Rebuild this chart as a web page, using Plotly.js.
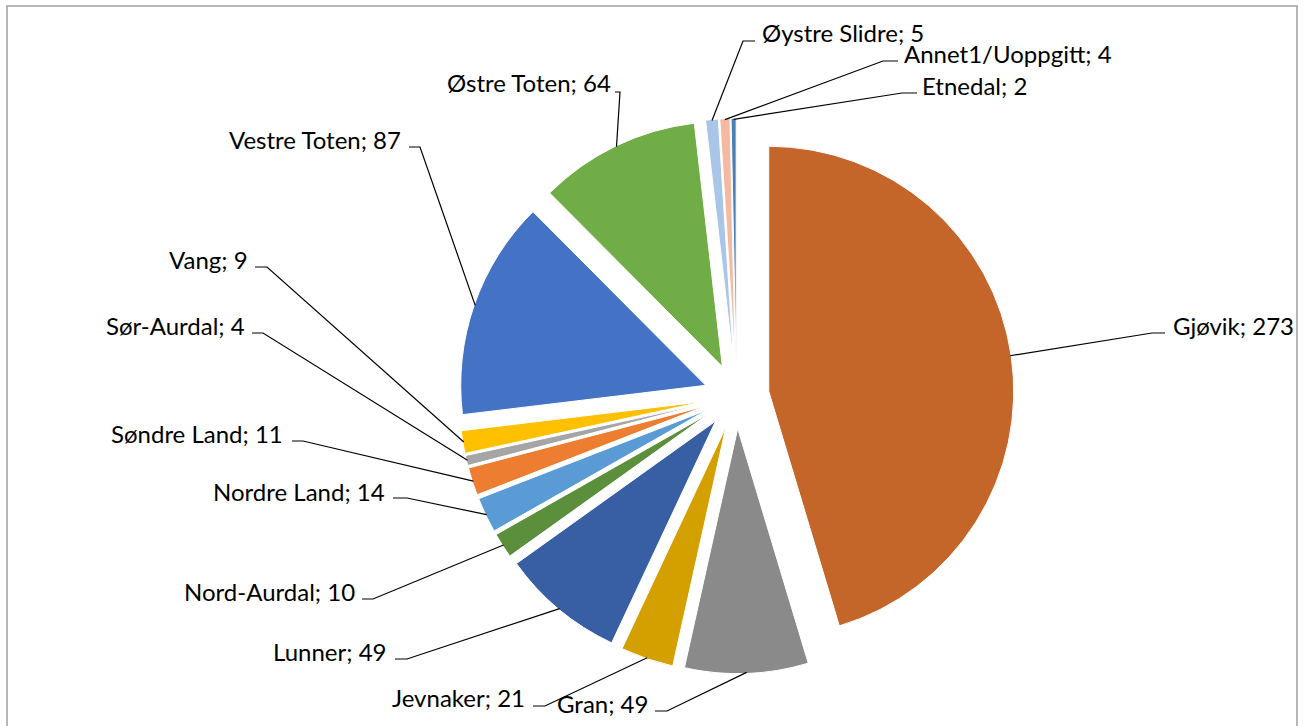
<!DOCTYPE html>
<html>
<head>
<meta charset="utf-8">
<script src="https://cdn.plot.ly/plotly-3.0.1.min.js"></script>
<style>html,body{margin:0;padding:0;background:#fff;}#chart{width:1306px;height:726px;}</style>
</head>
<body>
<div id="chart"></div>
<script>
// ---- data ----
const labels = ['Gjøvik','Gran','Jevnaker','Lunner','Nord-Aurdal','Nordre Land','Søndre Land','Sør-Aurdal','Vang','Vestre Toten','Østre Toten','Øystre Slidre','Annet1/Uoppgitt','Etnedal'];
const values = [273,49,21,49,10,14,11,4,9,87,64,5,4,2];
const colors = ['#C4662A','#8A8A8A','#D4A000','#385FA3','#5B8F3B','#5B9BD5','#ED7D31','#A5A5A5','#FFC000','#4472C4','#70AD47','#A9C5E8','#F5B9A1','#4A7FB6'];

// ---- layout configuration (label placement, pixels) ----
const W = 1306, H = 726;
const CX = 736.5, CY = 396, R = 245, PULL = 0.133;
// [textX, textY, xanchor, stubY, stubNear, stubFar]
const labelPos = [
  [1171, 325, 'left', 333, 1165, 1152],
  [650, 703, 'right', 711, 655, 667],
  [527, 697, 'right', 706, 533, 545],
  [388, 651, 'right', 659, 395, 407],
  [357, 591, 'right', 599, 362, 373],
  [387, 491, 'right', 498, 393, 407],
  [285, 433.5, 'right', 441, 292, 303],
  [247, 325, 'right', 333, 252, 263],
  [250, 259, 'right', 267, 255, 267],
  [403, 139.5, 'right', 147, 409, 420],
  [613, 82.5, 'right', 92, 615, 620],
  [760, 32, 'left', 41, 755, 743],
  [902, 53, 'left', 61, 898, 883],
  [920, 86, 'left', 93, 917, 902]
];

const px = x => x / W;
const py = y => 1 - y / H;

// pie domain so that radius/centre match
const boxHalf = R * (1 + PULL);
const domY = [py(CY + boxHalf), py(CY - boxHalf)];
const domX = [px(CX) - 0.22, px(CX) + 0.22];

const total = values.reduce((a, b) => a + b, 0);
const annotations = [];
const shapes = [];
let cum = 0;
values.forEach((v, i) => {
  const mid = (cum + v / 2) / total * 2 * Math.PI;
  cum += v;
  const rr = R * (1 + PULL) - 1;
  const ax = CX + rr * Math.sin(mid);
  const ay = CY - rr * Math.cos(mid);
  const [tx, ty, anc, sy, sn, sf] = labelPos[i];
  annotations.push({
    xref: 'paper', yref: 'paper', x: px(tx), y: py(ty),
    xanchor: anc, yanchor: 'middle', showarrow: false,
    text: labels[i] + '; ' + v,
    font: {family: 'Lato, Carlito, Calibri, sans-serif', size: 24, color: '#000'}
  });
  shapes.push({
    type: 'path', xref: 'paper', yref: 'paper',
    path: `M ${px(sn)},${py(sy)} L ${px(sf)},${py(sy)} L ${px(ax)},${py(ay)}`,
    line: {color: '#000', width: 1.2}
  });
});

// outer frame
shapes.push({type: 'rect', xref: 'paper', yref: 'paper', x0: px(7), x1: px(1297), y0: py(732), y1: py(6),
  line: {color: '#A0A0A0', width: 1.5}, layer: 'below'});

const trace = {
  type: 'pie',
  labels: labels,
  values: values,
  sort: false,
  direction: 'clockwise',
  rotation: 0,
  pull: values.map(() => PULL),
  marker: {colors: colors, line: {color: '#fff', width: 1}},
  textinfo: 'none',
  hoverinfo: 'label+value+percent',
  domain: {x: domX, y: domY},
  showlegend: false
};

Plotly.newPlot('chart', [trace], {
  width: W, height: H,
  margin: {l: 0, r: 0, t: 0, b: 0},
  paper_bgcolor: '#fff',
  showlegend: false,
  annotations: annotations,
  shapes: shapes
}, {displayModeBar: false, staticPlot: true});
</script>
</body>
</html>
